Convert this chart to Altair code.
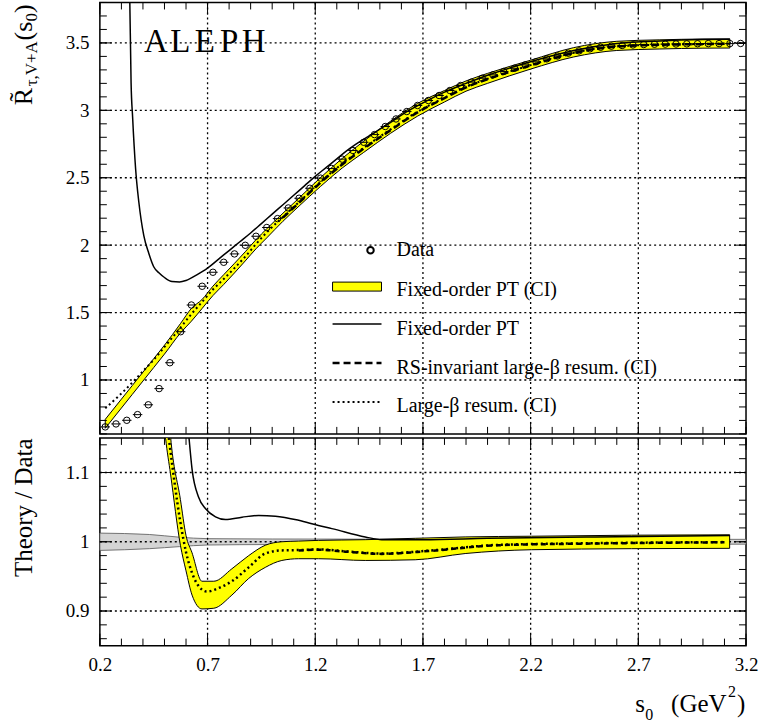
import altair as alt
import pandas as pd

# ---------------- data ----------------
s_data = [0.225, 0.275, 0.325, 0.375, 0.425, 0.475, 0.525, 0.575, 0.625, 0.675,
          0.725, 0.775, 0.825, 0.875, 0.925, 0.975, 1.025, 1.075, 1.125, 1.175,
          1.225, 1.275, 1.325, 1.375, 1.425, 1.475, 1.525, 1.575, 1.625, 1.675,
          1.725, 1.775, 1.825, 1.875, 1.925, 1.975, 2.025, 2.075, 2.125, 2.175,
          2.225, 2.275, 2.325, 2.375, 2.425, 2.475, 2.525, 2.575, 2.625, 2.675,
          2.725, 2.775, 2.825, 2.875, 2.925, 2.975, 3.025, 3.075, 3.125, 3.175]
R_data = [0.652, 0.674, 0.701, 0.743, 0.816, 0.936, 1.128, 1.358, 1.556, 1.695,
          1.799, 1.873, 1.935, 1.999, 2.066, 2.131, 2.197, 2.276, 2.348, 2.422,
          2.497, 2.569, 2.638, 2.702, 2.763, 2.820, 2.880, 2.936, 2.991, 3.036,
          3.073, 3.110, 3.147, 3.184, 3.209, 3.238, 3.263, 3.288, 3.312, 3.337,
          3.360, 3.382, 3.403, 3.424, 3.441, 3.456, 3.468, 3.476, 3.481, 3.485,
          3.488, 3.490, 3.491, 3.492, 3.493, 3.494, 3.495, 3.495, 3.495, 3.496]

# Fixed-order PT (solid), top panel
fo_s = [0.336, 0.339, 0.345, 0.352, 0.366, 0.381, 0.404, 0.427, 0.45, 0.474, 0.50,
        0.535, 0.57, 0.60, 0.65, 0.70, 0.75, 0.80, 0.85, 0.90, 0.95, 1.00, 1.05,
        1.10, 1.15, 1.20, 1.25, 1.30, 1.35, 1.40, 1.45, 1.50, 1.55, 1.60, 1.70,
        1.80, 1.90, 2.00, 2.20, 2.40, 2.60, 2.80, 3.00, 3.125]
fo_R = [3.95, 3.80, 3.20, 2.95, 2.565, 2.318, 2.071, 1.94, 1.84, 1.795, 1.76,
        1.730, 1.727, 1.738, 1.78, 1.83, 1.895, 1.96, 2.025, 2.09, 2.16, 2.23, 2.30,
        2.37, 2.44, 2.51, 2.575, 2.64, 2.705, 2.76, 2.81, 2.86, 2.91, 2.965, 3.055,
        3.135, 3.20, 3.26, 3.36, 3.443, 3.495, 3.515, 3.525, 3.527]

# Fixed-order PT (CI) band, top panel
band_s = [0.225, 0.30, 0.35, 0.40, 0.45, 0.50, 0.575, 0.625, 0.675, 0.725, 0.775,
          0.825, 0.875, 0.925, 0.975, 1.05, 1.125, 1.225, 1.325, 1.425, 1.55, 1.675,
          1.8, 1.9, 2.0, 2.2, 2.4, 2.6, 2.8, 3.0, 3.125]
band_lo = [0.642, 0.792, 0.892, 0.992, 1.092, 1.192, 1.35, 1.436, 1.531, 1.626, 1.708,
           1.794, 1.883, 1.973, 2.054, 2.177, 2.290, 2.436, 2.572, 2.688, 2.830, 2.957,
           3.062, 3.142, 3.200, 3.306, 3.396, 3.444, 3.455, 3.461, 3.462]
band_hi = [0.708, 0.858, 0.958, 1.058, 1.158, 1.258, 1.42, 1.531, 1.598, 1.696, 1.781,
           1.865, 1.951, 2.041, 2.122, 2.237, 2.350, 2.502, 2.643, 2.771, 2.920, 3.051,
           3.147, 3.218, 3.274, 3.372, 3.465, 3.512, 3.523, 3.529, 3.530]

# Large-beta resum. (dotted), top panel
lb_s = [0.225, 0.30, 0.35, 0.40, 0.45, 0.50, 0.575, 0.625, 0.675, 0.725, 0.775, 0.825,
        0.875, 0.925, 0.975, 1.05, 1.125, 1.225, 1.325, 1.425, 1.55, 1.675, 1.8, 1.9,
        2.0, 2.2, 2.4, 2.6, 2.8, 3.0, 3.125]
lb_R = [0.79, 0.90, 0.98, 1.065, 1.15, 1.245, 1.39, 1.489, 1.580, 1.671, 1.749, 1.83,
        1.915, 2.008, 2.095, 2.209, 2.320, 2.470, 2.604, 2.722, 2.859, 2.990, 3.094, 3.174,
        3.234, 3.335, 3.427, 3.474, 3.487, 3.492, 3.495]

# RS-invariant large-beta resum. (dashed), top panel
rs_s = [1.05, 1.125, 1.225, 1.325, 1.425, 1.55, 1.675, 1.8, 1.9, 2.0, 2.2, 2.4, 2.6,
        2.8, 3.0, 3.125]
rs_R = [2.205, 2.315, 2.465, 2.598, 2.716, 2.853, 2.985, 3.09, 3.17, 3.231, 3.333,
        3.425, 3.473, 3.486, 3.491, 3.494]

# ---- ratio panel ----
rfo_s = [0.575, 0.60, 0.613, 0.628, 0.659, 0.690, 0.737, 0.783, 0.860, 0.937, 1.015,
         1.123, 1.215, 1.277, 1.432, 1.509, 1.7, 2.0, 2.5, 3.125]
rfo_R = [1.28, 1.20, 1.153, 1.105, 1.064, 1.048, 1.036, 1.032, 1.0355, 1.038, 1.037,
         1.031, 1.0235, 1.019, 1.007, 1.003, 1.003, 1.005, 1.007, 1.009]

rband_s = [0.49, 0.505, 0.528, 0.574, 0.600, 0.628, 0.674, 0.729, 0.813, 0.891, 0.968,
           1.045, 1.123, 1.215, 1.432, 1.664, 1.896, 2.204, 2.668, 3.124]
rband_lo = [1.20, 1.15, 1.098, 0.995, 0.958, 0.923, 0.903, 0.904, 0.923, 0.947, 0.963,
            0.973, 0.9755, 0.9755, 0.973, 0.974, 0.983, 0.9885, 0.990, 0.9905]
rband_hi = [1.35, 1.25, 1.153, 1.061, 1.009, 0.984, 0.943, 0.943, 0.961, 0.980, 0.995,
            1.000, 1.001, 1.002, 1.003, 1.005, 1.007, 1.008, 1.0095, 1.010]

rlb_s = [0.50, 0.52, 0.574, 0.600, 0.628, 0.65, 0.697, 0.75, 0.813, 0.891, 0.968, 1.045,
         1.123, 1.215, 1.35, 1.509, 1.741, 2.05, 2.514, 3.1]
rlb_R = [1.20, 1.15, 1.028, 0.985, 0.955, 0.94, 0.928, 0.933, 0.943, 0.963, 0.983,
         0.9875, 0.988, 0.989, 0.986, 0.983, 0.9875, 0.9955, 0.998, 0.9995]

rrs_s = [1.123, 1.215, 1.35, 1.509, 1.741, 2.05, 2.514, 3.1]
rrs_R = [0.9875, 0.9885, 0.9855, 0.9825, 0.987, 0.995, 0.9975, 0.9993]

err_s = [0.2, 0.43, 0.57, 0.70, 1.0, 2.0, 3.2]
err_lo = [0.9875, 0.990, 0.993, 0.9953, 0.996, 0.9965, 0.9965]
err_hi = [1.0125, 1.0105, 1.0066, 1.0045, 1.004, 1.0035, 1.0035]

# axis ticks
x_major = [0.2, 0.7, 1.2, 1.7, 2.2, 2.7, 3.2]
y_top_major = [1.0, 1.5, 2.0, 2.5, 3.0, 3.5]
y_bot_major = [0.9, 1.0, 1.1]
x_minor = [round(0.2 + 0.1 * i, 2) for i in range(31)]
y_top_minor = [round(0.6 + 0.1 * i, 2) for i in range(33)]
y_bot_minor = [round(0.86 + 0.02 * i, 2) for i in range(15)]

# ---------------- styling ----------------
FONT = "Liberation Serif"
W, H1, H2 = 647, 432, 208
xs = alt.Scale(domain=[0.2, 3.2], nice=False, zero=False)
yts = alt.Scale(domain=[0.6, 3.8], nice=False, zero=False)
ybs = alt.Scale(domain=[0.85, 1.15], nice=False, zero=False)
NOGRID = dict(grid=False, ticks=False, tickSize=0, domain=False)
LAB = dict(format="~g", labelFont=FONT, labelFontSize=19, labelColor="black")

AX_TOP_X = alt.Axis(values=x_major, labels=False, title=None, **NOGRID)
AX_TOP_Y = alt.Axis(values=y_top_major, labelPadding=11, title=None, **LAB, **NOGRID)
AX_BOT_X = alt.Axis(values=x_major, labelPadding=10, labelFlush=False, title=None,
                    **LAB, **NOGRID)
AX_BOT_Y = alt.Axis(values=y_bot_major, labelPadding=11,
                    title="Theory / Data", titleFont=FONT, titleFontSize=25,
                    titleFontWeight="normal", titleColor="black", titleAngle=270,
                    titleAlign="right", titleBaseline="alphabetic",
                    titleX=-68, titleY=0, **LAB, **NOGRID)


def ann(text, x, y, size, font=FONT, angle=0, align="left"):
    return alt.Chart(alt.Data(values=[{}])).mark_text(
        text=text, font=font, fontSize=size, angle=angle, align=align,
        baseline="alphabetic", color="black").encode(x=alt.value(x), y=alt.value(y))


def grid_layers(yscale, ax_x, ax_y, H, y_maj):
    gx = alt.Chart(pd.DataFrame({"gu": x_major[1:-1]})).mark_rule(
        stroke="#000000", strokeWidth=1.3, strokeDash=[2, 3], strokeOpacity=1,
        strokeCap="butt").encode(
        x=alt.X("gu:Q", scale=xs, axis=ax_x), y=alt.value(0), y2=alt.value(H))
    gy = alt.Chart(pd.DataFrame({"gv": y_maj})).mark_rule(
        stroke="#000000", strokeWidth=1.3, strokeDash=[2, 3], strokeOpacity=1,
        strokeCap="butt").encode(
        y=alt.Y("gv:Q", scale=yscale, axis=ax_y), x=alt.value(0), x2=alt.value(W))
    return [gx, gy]


def tick_layers(yscale, ax_x, ax_y, H, y_maj, y_min):
    out = []
    for vals, L in [(y_maj, 12), (y_min, 7)]:
        d = pd.DataFrame({"v": vals})
        b = alt.Chart(d).mark_rule(color="black", strokeWidth=1)
        yy = alt.Y("v:Q", scale=yscale, axis=ax_y)
        out.append(b.encode(y=yy, x=alt.value(0), x2=alt.value(L)))
        out.append(b.encode(y=yy, x=alt.value(W), x2=alt.value(W - L)))
    for vals, L in [(x_major, 12), (x_minor, 7)]:
        d = pd.DataFrame({"u": vals})
        b = alt.Chart(d).mark_rule(color="black", strokeWidth=1)
        xx = alt.X("u:Q", scale=xs, axis=ax_x)
        out.append(b.encode(x=xx, y=alt.value(0), y2=alt.value(L)))
        out.append(b.encode(x=xx, y=alt.value(H), y2=alt.value(H - L)))
    return out


def XT(f="s"):
    return alt.X(f + ":Q", scale=xs, axis=AX_TOP_X)


def YT(f):
    return alt.Y(f + ":Q", scale=yts, axis=AX_TOP_Y)


def XB(f="s"):
    return alt.X(f + ":Q", scale=xs, axis=AX_BOT_X)


def YB(f):
    return alt.Y(f + ":Q", scale=ybs, axis=AX_BOT_Y)


# ---------------- top panel ----------------
df_data = pd.DataFrame({"s": s_data, "R": R_data})
df_band = pd.DataFrame({"s": band_s, "lo": band_lo, "hi": band_hi})
df_fo = pd.DataFrame({"s": fo_s, "R": fo_R})
df_lb = pd.DataFrame({"s": lb_s, "R": lb_R})
df_rs = pd.DataFrame({"s": rs_s, "R": rs_R})

top_band = alt.Chart(df_band).mark_area(
    color="#ffff00", stroke="black", strokeWidth=1, opacity=1, interpolate="monotone", clip=True
).encode(x=XT(), y=YT("lo"), y2="hi:Q")
top_lb = alt.Chart(df_lb).mark_line(color="black", strokeDash=[2, 3], strokeWidth=2,
                                    interpolate="monotone", clip=True).encode(x=XT(), y=YT("R"))
top_rs = alt.Chart(df_rs).mark_line(color="black", strokeDash=[7, 4], strokeWidth=2.5,
                                    interpolate="monotone", clip=True).encode(x=XT(), y=YT("R"))
top_fo = alt.Chart(df_fo).mark_line(color="black", strokeWidth=1.5,
                                    interpolate="monotone", clip=True).encode(x=XT(), y=YT("R"))
top_err = alt.Chart(df_data).transform_calculate(
    lo="datum.s - 0.022", hi="datum.s + 0.022"
).mark_rule(color="black", strokeWidth=1, clip=True).encode(x=XT("lo"), x2="hi:Q", y=YT("R"))
top_pts = alt.Chart(df_data).mark_point(shape="circle", filled=False, size=42, color="black",
                                        strokeWidth=1, opacity=1, clip=True).encode(
    x=XT(), y=YT("R"))

# legend (drawn inside the top panel)
leg = [
    alt.Chart(alt.Data(values=[{}])).mark_point(shape="circle", filled=False, size=42,
                                                color="black", opacity=1).encode(
        x=alt.value(271), y=alt.value(248)),
    alt.Chart(alt.Data(values=[{}])).mark_rect(fill="#ffff00", stroke="black",
                                               strokeWidth=1).encode(
        x=alt.value(233), x2=alt.value(282), y=alt.value(280), y2=alt.value(289)),
    alt.Chart(alt.Data(values=[{}])).mark_rule(color="black", strokeWidth=1.5).encode(
        x=alt.value(233), x2=alt.value(282), y=alt.value(322)),
    alt.Chart(alt.Data(values=[{}])).mark_rule(color="black", strokeWidth=2.5,
                                               strokeDash=[7, 4]).encode(
        x=alt.value(233), x2=alt.value(282), y=alt.value(361)),
    alt.Chart(alt.Data(values=[{}])).mark_rule(color="black", strokeWidth=2,
                                               strokeDash=[2, 3]).encode(
        x=alt.value(233), x2=alt.value(282), y=alt.value(400)),
    ann("Data", 297, 254, 20),
    ann("Fixed-order PT (CI)", 297, 294, 20),
    ann("Fixed-order PT", 297, 333, 20),
    ann("RS-invariant large-β resum. (CI)", 297, 372, 20),
    ann("Large-β resum. (CI)", 297, 410, 20),
]

top_title = [
    ann("R\u0303", -68, 103, 26, angle=270),
    ann("τ,V+A", -63, 84, 17, angle=270),
    ann("(s", -68, 38, 26, angle=270),
    ann("0", -63, 19, 17, angle=270),
    ann(")", -68, 10.5, 26, angle=270),
]

# ALEPH in a typewriter-like spacing (one glyph per fixed-width cell)
aleph = [ann(ch, 56 + 24.5 * i, 50, 33, align="center") for i, ch in enumerate("ALEPH")]

top = alt.layer(*grid_layers(yts, AX_TOP_X, AX_TOP_Y, H1, y_top_major),
                top_band, top_lb, top_rs, top_fo, top_err, top_pts,
                *tick_layers(yts, AX_TOP_X, AX_TOP_Y, H1, y_top_major, y_top_minor),
                *leg, *top_title, *aleph).properties(width=W, height=H1)

# ---------------- bottom panel ----------------
df_err = pd.DataFrame({"s": err_s, "lo": err_lo, "hi": err_hi})
df_rband = pd.DataFrame({"s": rband_s, "lo": rband_lo, "hi": rband_hi})
df_rfo = pd.DataFrame({"s": rfo_s, "R": rfo_R})
df_rlb = pd.DataFrame({"s": rlb_s, "R": rlb_R})
df_rrs = pd.DataFrame({"s": rrs_s, "R": rrs_R})

bot_err = alt.Chart(df_err).mark_area(
    color="#d4d4d4", stroke="#555555", strokeWidth=0.8, opacity=1, interpolate="monotone"
).encode(x=XB(), y=YB("lo"), y2="hi:Q")
bot_band = alt.Chart(df_rband).mark_area(
    color="#ffff00", stroke="black", strokeWidth=1, opacity=1, interpolate="monotone", clip=True
).encode(x=XB(), y=YB("lo"), y2="hi:Q")
bot_lb = alt.Chart(df_rlb).mark_line(color="black", strokeDash=[2, 3], strokeWidth=2.5,
                                     interpolate="monotone", clip=True).encode(x=XB(), y=YB("R"))
bot_rs = alt.Chart(df_rrs).mark_line(color="black", strokeDash=[5, 4], strokeWidth=2.5,
                                     interpolate="monotone", clip=True).encode(x=XB(), y=YB("R"))
bot_fo = alt.Chart(df_rfo).mark_line(color="black", strokeWidth=1.5,
                                     interpolate="monotone", clip=True).encode(x=XB(), y=YB("R"))

x_title = [
    ann("s", 536, 274, 25),
    ann("0", 546, 282, 16),
    ann("(GeV", 572, 274, 25),
    ann("2", 629, 259, 16),
    ann(")", 638, 274, 25),
]

bottom = alt.layer(bot_err, *grid_layers(ybs, AX_BOT_X, AX_BOT_Y, H2, y_bot_major),
                   bot_band, bot_lb, bot_rs, bot_fo,
                   *tick_layers(ybs, AX_BOT_X, AX_BOT_Y, H2, y_bot_major, y_bot_minor),
                   *x_title).properties(width=W, height=H2)

chart = alt.vconcat(top, bottom, spacing=0).properties(
    padding={"left": 10, "top": 0, "right": 0, "bottom": 0},
    background="white",
).configure_view(stroke="black", strokeWidth=1.5)

chart.save("out.html", embed_options={"renderer": "svg", "actions": False})
